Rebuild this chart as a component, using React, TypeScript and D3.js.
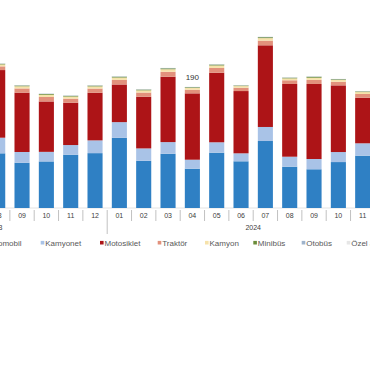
import React from "react";
// @ts-ignore
import * as d3 from "d3";

// months shown on the axis (2023-04 .. 2024-12), chart is cropped on both sides
const years = ["2023", "2023", "2023", "2023", "2023", "2023", "2023", "2023", "2023",
  "2024", "2024", "2024", "2024", "2024", "2024", "2024", "2024", "2024", "2024", "2024", "2024"];
const months = ["04", "05", "06", "07", "08", "09", "10", "11", "12",
  "01", "02", "03", "04", "05", "06", "07", "08", "09", "10", "11", "12"];

// values in thousands
const otomobil = [80, 88, 82, 92, 85.7, 71, 73, 83.5, 86, 110, 74, 85, 61.6, 86.7, 73.2, 105, 64.7, 60.7, 72, 82, 95];
const kamyonet = [20, 22, 19, 23, 24.5, 16.8, 15, 15.2, 20, 24.6, 19.4, 18.3, 14.1, 16.3, 12.5, 22, 15.7, 16.1, 15.7, 19.4, 24];
const motosiklet = [95, 120, 110, 115, 106, 93, 79, 66.3, 74.6, 59, 81, 102.4, 104, 109, 97.6, 128, 114, 117.6, 104.5, 71.5, 60];
const traktor = [6, 7, 6, 6, 5.8, 6.6, 7.0, 6.4, 6.6, 7.2, 6.6, 7.8, 5.7, 7.5, 5.2, 7.4, 5.8, 6.4, 5.7, 5.8, 6.6];
const kamyon = [3, 3.4, 3, 3.2, 3.0, 3.4, 3.5, 3.3, 3.4, 3.7, 3.4, 4.0, 2.9, 3.9, 2.6, 3.9, 3.0, 3.4, 2.9, 3.0, 3.4];
const minibus = [1, 1.2, 1, 1.1, 1.0, 1.2, 1.2, 1.1, 1.2, 1.3, 1.2, 1.4, 1.0, 1.4, 0.9, 1.4, 1.0, 1.5, 1.0, 1.0, 1.2];
const otobus = [0.4, 0.5, 0.4, 0.5, 0.4, 0.5, 0.5, 0.5, 0.5, 0.5, 0.5, 0.5, 0.4, 0.5, 0.4, 0.5, 0.4, 0.4, 0.4, 0.4, 0.5];
const ozel = [0.3, 0.3, 0.3, 0.3, 0.3, 0.3, 0.3, 0.3, 0.3, 0.3, 0.3, 0.3, 0.3, 0.3, 0.3, 0.3, 0.3, 0.3, 0.3, 0.3, 0.3];

const seriesNames = ["Otomobil", "Kamyonet", "Motosiklet", "Traktör", "Kamyon", "Minibüs", "Otobüs", "Özel amaçlı"];
const seriesValues = [otomobil, kamyonet, motosiklet, traktor, kamyon, minibus, otobus, ozel];
const colors = ["#2f80c4", "#a9c3e7", "#ad1417", "#e2917c", "#f6e2aa", "#6a8c3a", "#9fb4cc", "#e6e6e6"];

// only this bar carries a total label in the picture
const labelled = ["2024-04"];

const W = 370;
const H = 380;
const FONT = "'Liberation Sans', Arial, sans-serif";
// legend entry offsets (layout, as in the original legend box)
const legendPos = [-15, 40.7, 100, 157.7, 205, 253.3, 301.7, 346.7];

const App: React.FC = () => {
  const keys = months.map((m, i) => `${years[i]}-${m}`);
  const rows = keys.map((k, i) => {
    const r: any = { key: k };
    seriesNames.forEach((s, j) => (r[s] = seriesValues[j][i]));
    return r;
  });
  const stacked = d3.stack().keys(seriesNames)(rows);

  const x = d3.scaleBand().domain(keys).range([-111.8, 399.2]).paddingInner(0.38).paddingOuter(0.19);
  const y = d3.scaleLinear().domain([0, 300]).range([208, 16.6]);
  const step = x.step();
  const slot = (k: string) => (x(k) as number) - (step * 0.38) / 2;

  const yearGroups = d3.groups(keys, (k: string) => k.slice(0, 4));

  return (
    <div style={{ position: "absolute", left: 0, top: 0 }}>
      <svg width={W} height={H} style={{ display: "block", background: "#fff" }} fontFamily={FONT}>
        <line x1={0} x2={W} y1={y(0)} y2={y(0)} stroke="#d0d0d0" strokeWidth={0.6} />
        {stacked.map((layer: any, li: number) => (
          <g key={layer.key} fill={colors[li]}>
            {layer.map((d: any) => (
              <rect key={d.data.key} x={x(d.data.key)} width={x.bandwidth()}
                y={y(d[1])} height={Math.max(0, y(d[0]) - y(d[1]))} />
            ))}
          </g>
        ))}
        {labelled.map((k) => {
          const total = d3.sum(seriesValues, (s: number[]) => s[keys.indexOf(k)]);
          return (
            <text key={k} x={(x(k) as number) + x.bandwidth() / 2} y={y(total) - 7}
              textAnchor="middle" fontSize={8} fill="#333">{Math.round(total)}</text>
          );
        })}
        {/* month separators */}
        {keys.map((k, i) => {
          const newYear = i > 0 && months[i] === "01";
          return (
            <line key={"s" + k} x1={slot(k)} x2={slot(k)} y1={y(0) + 2} y2={newYear ? 234 : 221}
              stroke="#a6a6a6" strokeWidth={0.7} />
          );
        })}
        {keys.map((k, i) => (
          <text key={"m" + k} x={(x(k) as number) + x.bandwidth() / 2} y={217.5}
            textAnchor="middle" fontSize={7} fill="#404040">{months[i]}</text>
        ))}
        {yearGroups.map(([yr, ks]: [string, string[]]) => {
          const x0 = slot(ks[0]);
          const x1 = slot(ks[ks.length - 1]) + step;
          return (
            <text key={yr} x={(x0 + x1) / 2 - (yr === "2023" ? 3 : 0)} y={229.5}
              textAnchor="middle" fontSize={7} fill="#404040">{yr}</text>
          );
        })}
        {seriesNames.map((s, i) => (
          <g key={"l" + s} transform={`translate(${legendPos[i]},242.7)`}>
            <rect x={0} y={-1.8} width={3.6} height={3.6} fill={colors[i]} />
            <text x={4.5} y={2.8} fontSize={8} fill="#595959">{s}</text>
          </g>
        ))}
      </svg>
    </div>
  );
};

export default App;
